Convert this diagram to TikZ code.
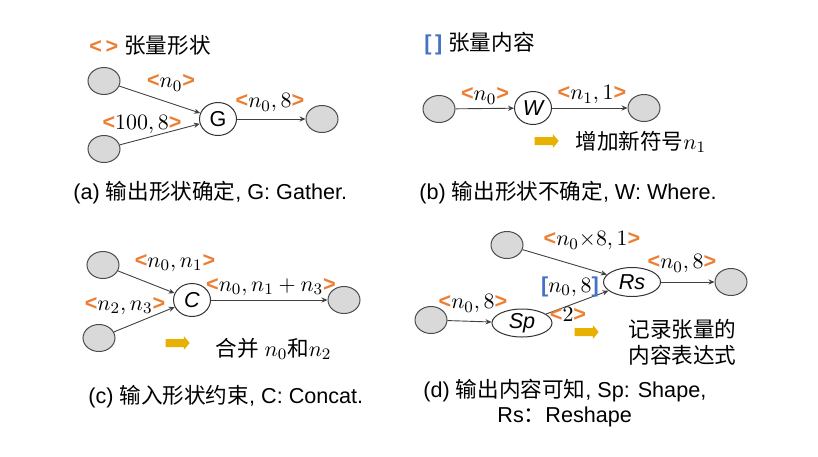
\documentclass[tikz,border=0pt]{standalone}
\usepackage{fontspec}
\setmainfont{Liberation Sans}
\newfontfamily\cjk{Noto Sans CJK SC}
\usepackage{amsmath}
\usepackage{tikz}
\usetikzlibrary{arrows.meta, positioning, calc, shapes.geometric, shapes.arrows}

\definecolor{shporange}{RGB}{237,125,49}
\definecolor{valblue}{RGB}{68,114,196}
\definecolor{hintyellow}{RGB}{232,176,0}
\definecolor{tensorgrey}{RGB}{217,217,217}
\newcommand{\zh}[1]{{\cjk #1}}
\newcommand{\shp}[1]{{\color{shporange}\bfseries<}$#1${\color{shporange}\bfseries>}}
\newcommand{\val}[1]{{\color{valblue}\bfseries[}$#1${\color{valblue}\bfseries]}}

\begin{document}
\begin{tikzpicture}[x=0.5pt, y=-0.5pt, font=\fontsize{10.8}{13}\selectfont,
    tensor/.style={ellipse, draw=black!70, fill=tensorgrey, line width=0.5pt, minimum width=16pt, minimum height=13.5pt, inner sep=0pt},
    op/.style={ellipse, draw=black!80, fill=white, line width=0.5pt, minimum width=18.5pt, minimum height=16.5pt, inner sep=0pt},
    edge/.style={draw=black!75, line width=0.45pt, -{Stealth[length=3pt,width=2.6pt]}},
    hint/.style={single arrow, fill=hintyellow, draw=none, inner sep=1.8pt, minimum height=12pt, single arrow head extend=1.5pt, single arrow tip angle=100}]
    \useasboundingbox (0,0) rectangle (818,456);

    % legends
    \node[anchor=west, inner sep=0pt] (legshape) at (89,45) {{\color{shporange}\bfseries<\,>}\ \zh{张量形状}};
    \node[anchor=west, inner sep=0pt] (legval) at (424,44) {{\color{valblue}\bfseries[\,]}\ \zh{张量内容}};

    % (a) Gather
    \node[tensor] (a1) at (104,81) {};
    \node[tensor] (a2) at (104,149) {};
    \node[op] (g) at (218,119) {G};
    \node[tensor] (a3) at (322,119) {};
    \draw[edge] (a1) -- (g);
    \draw[edge] (a2) -- (g);
    \draw[edge] (g) -- (a3);
    \node (la1) at (171,83) {\shp{n_0}};
    \node (la2) at (142,125) {\shp{100,8}};
    \node (la3) at (270,103) {\shp{n_0,8}};
    \node[anchor=west, inner sep=0pt] (capa) at (73,193) {(a) \zh{输出形状确定}, G: Gather.};

    % (b) Where
    \node[tensor] (b1) at (439,109) {};
    \node[op] (w) at (533,108) {\itshape W};
    \node[tensor] (b2) at (644,108) {};
    \draw[edge] (b1) -- (w);
    \draw[edge] (w) -- (b2);
    \node (lb1) at (485,96) {\shp{n_0}};
    \node (lb2) at (592,95) {\shp{n_1,1}};
    \node[hint] (hintb) at (545,141) {};
    \node[anchor=west, inner sep=0pt] (txtb) at (575,142) {\zh{增加新符号}$n_1$};
    \node[anchor=west, inner sep=0pt] (capb) at (419,193) {(b) \zh{输出形状不确定}, W: Where.};

    % (c) Concat
    \node[tensor] (c1) at (103,265) {};
    \node[tensor] (c2) at (99,338) {};
    \node[op] (cc) at (192,300) {\itshape C};
    \node[tensor] (c3) at (344,300) {};
    \draw[edge] (c1) -- (cc);
    \draw[edge] (c2) -- (cc);
    \draw[edge] (cc) -- (c3);
    \node (lc1) at (175,263) {\shp{n_0,n_1}};
    \node (lc2) at (125,306) {\shp{n_2,n_3}};
    \node (lc3) at (271,287) {\shp{n_0,n_1+n_3}};
    \node[hint] (hintc) at (176,343) {};
    \node[anchor=west, inner sep=0pt] (txtc) at (215,349) {\zh{合并} $n_0$\zh{和}$n_2$};
    \node[anchor=west, inner sep=0pt] (capc) at (88,397) {(c) \zh{输入形状约束}, C: Concat.};

    % (d) Shape + Reshape
    \node[tensor] (d1) at (507,245) {};
    \node[tensor] (d2) at (431,320) {};
    \node[op, minimum width=30pt, minimum height=14pt] (sp) at (522,323) {\itshape Sp};
    \node[op, minimum width=28.5pt, minimum height=14.5pt] (rs) at (632,282) {\itshape Rs};
    \node[tensor] (d3) at (731,282) {};
    \draw[edge] (d1) -- (rs);
    \draw[edge] (d2) -- (sp);
    \draw[edge] (sp) -- (rs);
    \draw[edge] (rs) -- (d3);
    \node (ld1) at (592,241) {\shp{n_0{\times}8,1}};
    \node (ld2) at (682,264) {\shp{n_0,8}};
    \node (ld3) at (570,287) {\val{n_0,8}};
    \node (ld4) at (568,314) {\shp{2}};
    \node (ld5) at (473,304) {\shp{n_0,8}};
    \node[hint] (hintd) at (585,332) {};
    \node[anchor=west, align=left, inner sep=0pt] (txtd) at (628,342) {\zh{记录张量的}\\\zh{内容表达式}};
    \node[anchor=west, inner sep=0pt] (capd) at (423,391) {(d) \zh{输出内容可知}, Sp: Shape,};
    \node[anchor=west, inner sep=0pt] (capd2) at (497,417) {Rs\zh{：}Reshape};
\end{tikzpicture}
\end{document}
